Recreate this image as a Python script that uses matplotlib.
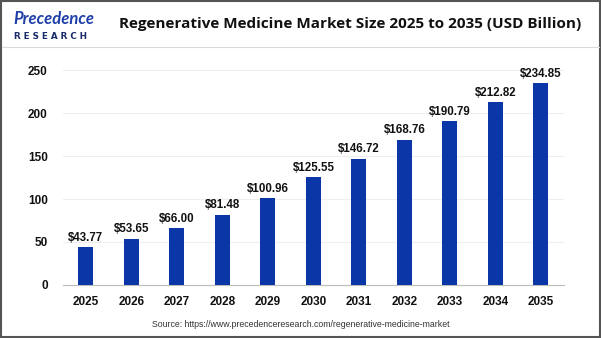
import matplotlib.pyplot as plt
from matplotlib.patches import Rectangle
from matplotlib.lines import Line2D

# Data
years = ["2025", "2026", "2027", "2028", "2029", "2030",
         "2031", "2032", "2033", "2034", "2035"]
market_size = [43.77, 53.65, 66.00, 81.48, 100.96, 125.55,
               146.72, 168.76, 190.79, 212.82, 234.85]
y_ticks = [0, 50, 100, 150, 200, 250]

bar_color = "#0B36A8"
label_font = "Liberation Sans"

fig = plt.figure(figsize=(6.01, 3.38), dpi=100)
ax = fig.add_axes([0.105, 0.157, 0.833, 0.661])

x = range(len(years))
ax.bar(x, market_size, width=0.33, color=bar_color, zorder=3)

for i, v in zip(x, market_size):
    ax.text(i, v + 4, f"${v:.2f}", ha="center", va="bottom",
            fontsize=8.3, fontweight="bold", family=label_font, color="#111111")

ax.set_xlim(-0.5, len(years) - 0.5)
ax.set_ylim(0, 260)
ax.set_yticks(y_ticks)
ax.set_xticks(list(x))
ax.set_xticklabels(years)
ax.grid(axis="y", color="#eeeeee", linewidth=0.8, zorder=0)
for side in ["top", "right", "left"]:
    ax.spines[side].set_visible(False)
ax.spines["bottom"].set_color("#bbbbbb")
ax.tick_params(length=0, labelsize=8.5, pad=8)
ax.tick_params(axis="y", pad=11)
for lbl in ax.get_xticklabels() + ax.get_yticklabels():
    lbl.set_fontweight("bold")
    lbl.set_family(label_font)
    lbl.set_color("#111111")

# header
fig.text(0.582, 0.928, "Regenerative Medicine Market Size 2025 to 2035 (USD Billion)",
         ha="center", va="center", fontsize=11, fontweight="bold",
         family="Open Sans", color="#111111")
fig.text(0.022, 0.943, "Precedence", ha="left", va="center", fontsize=12,
         fontweight="bold", family="Lato", color="#1E3FA8", style="italic")
fig.text(0.023, 0.893, "R E S E A R C H", ha="left", va="center", fontsize=6.3,
         fontweight="bold", family="DejaVu Sans", color="#1A2B6B")
fig.add_artist(Line2D([0.004, 0.996], [1 - 47 / 338, 1 - 47 / 338],
                      color="#d9d9d9", linewidth=0.8, transform=fig.transFigure))

# source
fig.text(0.5, 0.04, "Source: https://www.precedenceresearch.com/regenerative-medicine-market",
         ha="center", va="center", fontsize=6.3, family=label_font, color="#333333")

# outer border
fig.add_artist(Rectangle((0.002, 0.003), 0.996, 0.994, transform=fig.transFigure,
                         fill=False, edgecolor="#555555", linewidth=1.5))

fig.savefig("out.png", dpi=100)
